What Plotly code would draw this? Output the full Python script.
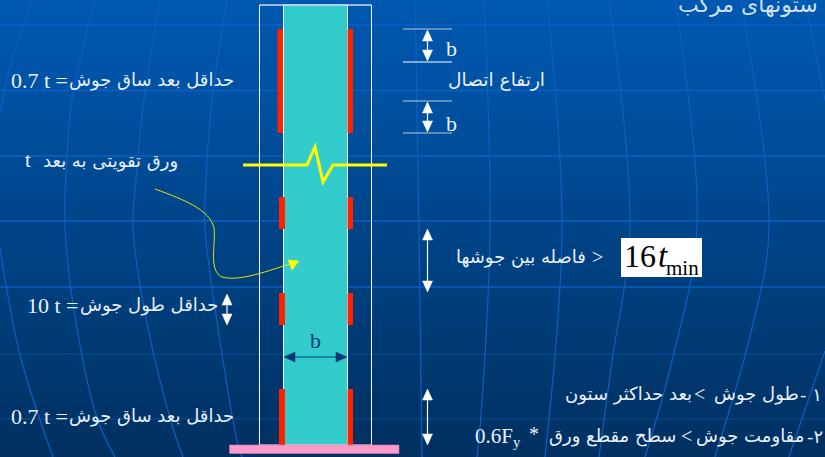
import plotly.graph_objects as go

W, H = 825, 457
AR = "DejaVu Sans"
SERIF = "Liberation Serif"
WHITE = "#ffffff"
TXT = "#e8f0f8"
GRID = "#0a60c4"
DARK = "#003a78"

bg_y = [0, 110, 228, 340, 457]
bg_z = [0, 110, 228, 340, 457]
bg_scale = [[0, "#0058b0"], [110/457, "#0050a0"], [228/457, "#004488"], [340/457, "#003a74"], [1, "#003060"]]

h_grid = [25, 90.5, 156, 221, 287]
h_grid_faint = [354, 419]
meridians = [
    [(33, 0), (12, 60), (0, 113)],
    [(0, 248), (20, 355), (53, 457)],
    [(95, 0), (72, 100), (67, 156), (65, 228), (77, 328), (97, 418), (115, 457)],
    [(160, 0), (144, 100), (136, 180), (133, 228), (148, 328), (173, 428), (183, 457)],
    [(227, 0), (212, 100), (206, 180), (205, 228), (218, 328), (238, 445), (242, 457)],
    [(415, 0), (419, 228), (422, 457)],
    [(484, 0), (490, 228), (480, 428), (477, 457)],
    [(547, 0), (562, 228), (545, 457)],
    [(609, 0), (630, 228), (612, 361), (599, 457)],
    [(675, 0), (697, 228), (672, 361), (645, 457)],
    [(741, 0), (769, 228), (752, 328), (715, 457)],
    [(805, 0), (825, 100)],
    [(825, 351), (789, 457)],
]

fig = go.Figure()
fig.add_trace(go.Heatmap(x=[0, W], y=bg_y, z=[[v, v] for v in bg_z], colorscale=bg_scale,
                         showscale=False, zsmooth="best", hoverinfo="skip"))
for y in h_grid:
    fig.add_trace(go.Scatter(x=[0, W], y=[y, y], mode="lines", line=dict(color=GRID, width=1.3), hoverinfo="skip"))
for y in h_grid_faint:
    fig.add_trace(go.Scatter(x=[0, W], y=[y, y], mode="lines", line=dict(color="#0a4c98", width=1), hoverinfo="skip"))
for m in meridians:
    fig.add_trace(go.Scatter(x=[p[0] for p in m], y=[p[1] for p in m], mode="lines",
                             line=dict(color=GRID, width=1.2, shape="spline"), hoverinfo="skip"))

shapes = []
def rect(x0, y0, x1, y1, fill, line=None, lw=1):
    shapes.append(dict(type="rect", x0=x0, y0=y0, x1=x1, y1=y1, fillcolor=fill,
                       line=dict(color=line or fill, width=lw if line else 0)))
def seg(x0, y0, x1, y1, color=WHITE, lw=1):
    shapes.append(dict(type="line", x0=x0, y0=y0, x1=x1, y1=y1, line=dict(color=color, width=lw)))
def path(d, color, lw=1, fill="rgba(0,0,0,0)"):
    shapes.append(dict(type="path", path=d, fillcolor=fill, line=dict(color=color, width=lw)))
def vdouble(x, y0, y1, color=WHITE):
    seg(x, y0 + 5, x, y1 - 5, color, 1.2)
    path(f"M{x},{y0} L{x-5},{y0+11} L{x+5},{y0+11} Z", color, 0.5, color)
    path(f"M{x},{y1} L{x-5},{y1-11} L{x+5},{y1-11} Z", color, 0.5, color)
def hdouble(x0, x1, y, color):
    seg(x0 + 5, y, x1 - 5, y, color, 1.2)
    path(f"M{x0},{y} L{x0+11},{y-5} L{x0+11},{y+5} Z", color, 0.5, color)
    path(f"M{x1},{y} L{x1-11},{y-5} L{x1-11},{y+5} Z", color, 0.5, color)

# column
rect(259.5, 5, 371.5, 445, "rgba(0,0,0,0)", WHITE, 1)
rect(283.5, 5, 347.5, 445, "#33cccc", WHITE, 1)
seg(259.5, 5, 371.5, 5, "#b8c8dc", 1.2)
# welds
RED = "#ff2200"
rect(277.5, 29, 283, 133, RED); rect(347.5, 29, 353, 133, RED)
for y0, y1 in [(197, 229), (293, 325), (389, 445)]:
    rect(279, y0, 285, y1, RED); rect(347.5, y0, 353, y1, RED)
# base
rect(229.5, 445, 399, 453.5, "#ff99cc", "#d080a8", 0.6)
# break line
path("M243,165 L307,165 L315,147 L323,182 L333,165 L387,165", "#ffff00", 3)
# curved leader
path("M155,189 C185,200 210,210 214,228 C216,245 208,270 222,277 C240,282 270,270 290,264", "#e6e600", 1)
path("M299,261 L288,260 L292,270 Z", "#ffff00", 0.5, "#ffff00")
# dimension lines
for y, c in [(29, "#b8c8dc"), (62, WHITE), (101, "#b8c8dc"), (133, "#b8c8dc")]:
    seg(403, y, 452, y, c, 1)
vdouble(427.5, 30, 61)
vdouble(427.5, 102, 132)
vdouble(427.5, 229, 292)
vdouble(427.5, 389, 445)
vdouble(227, 294, 325)
hdouble(284, 347, 357, DARK)
# formula box
rect(621, 238, 702, 277, WHITE)

anns = []
def text(x, y, s, size, font=AR, color=TXT, anchor="left"):
    x = x - 2 if anchor == "left" else x + 2
    anns.append(dict(x=x, y=y, text=s, showarrow=False, xanchor=anchor, yanchor="middle",
                     font=dict(family=font, size=size, color=color), xref="x", yref="y"))

AR_SIZE = 18
LEG = "حداقل بعد ساق جوش"
text(11, 80, "0.7 t =", 22, SERIF)
text(233.5, 80, LEG, AR_SIZE, anchor="right")
text(11, 416, "0.7 t =", 22, SERIF)
text(233.5, 416, LEG, AR_SIZE, anchor="right")
text(25, 160, "t", 21, SERIF)
text(178, 161, "ورق تقویتی به بعد", AR_SIZE, anchor="right")
text(27, 305, "10 t =", 22, SERIF)
text(217.5, 305, "حداقل طول جوش", AR_SIZE, anchor="right")
text(545, 80, "ارتفاع اتصال", 18.6, anchor="right")
text(446, 48, "b", 22, SERIF)
text(446, 123, "b", 22, SERIF)
text(310, 340, "b", 22, SERIF, DARK)
text(586, 257, "فاصله بین جوشها", AR_SIZE, anchor="right")
text(592, 257, "&gt;", 20, SERIF)
text(678, 4, "ستونهای مرکب", 22, AR, "#cfe0f0")
# line 1, laid out piece by piece in visual order
text(822, 394, "- ۱", AR_SIZE, anchor="right")
text(799, 394, "طول جوش", AR_SIZE, anchor="right")
text(694, 394, "&lt;", 20, SERIF)
text(692, 394, "بعد حداکثر ستون", AR_SIZE, anchor="right")
# line 2
text(822.5, 436, "-۲", AR_SIZE, anchor="right")
text(804, 436, "مقاومت جوش", AR_SIZE, anchor="right")
text(681, 436, "&lt;", 20, SERIF)
text(676, 436, "سطح مقطع ورق", AR_SIZE, anchor="right")
text(529, 434, "*", 20, SERIF)
text(475, 437, "0.6F<sub>y</sub>", 21, SERIF)
text(624, 256, "16", 32, SERIF, "#000000")
text(658, 256, "<i>t</i>", 33, SERIF, "#000000")
text(666, 268, "min", 21, SERIF, "#000000")

fig.update_layout(
    width=W, height=H, margin=dict(l=0, r=0, t=0, b=0), showlegend=False,
    xaxis=dict(range=[0, W], visible=False, fixedrange=True),
    yaxis=dict(range=[H, 0], visible=False, fixedrange=True),
    shapes=shapes, annotations=anns, plot_bgcolor="#004488", paper_bgcolor="#004488",
)
fig.write_html("out.html", config={"displayModeBar": False},
               post_script="document.body.style.margin='0';document.documentElement.style.overflow='hidden';")
